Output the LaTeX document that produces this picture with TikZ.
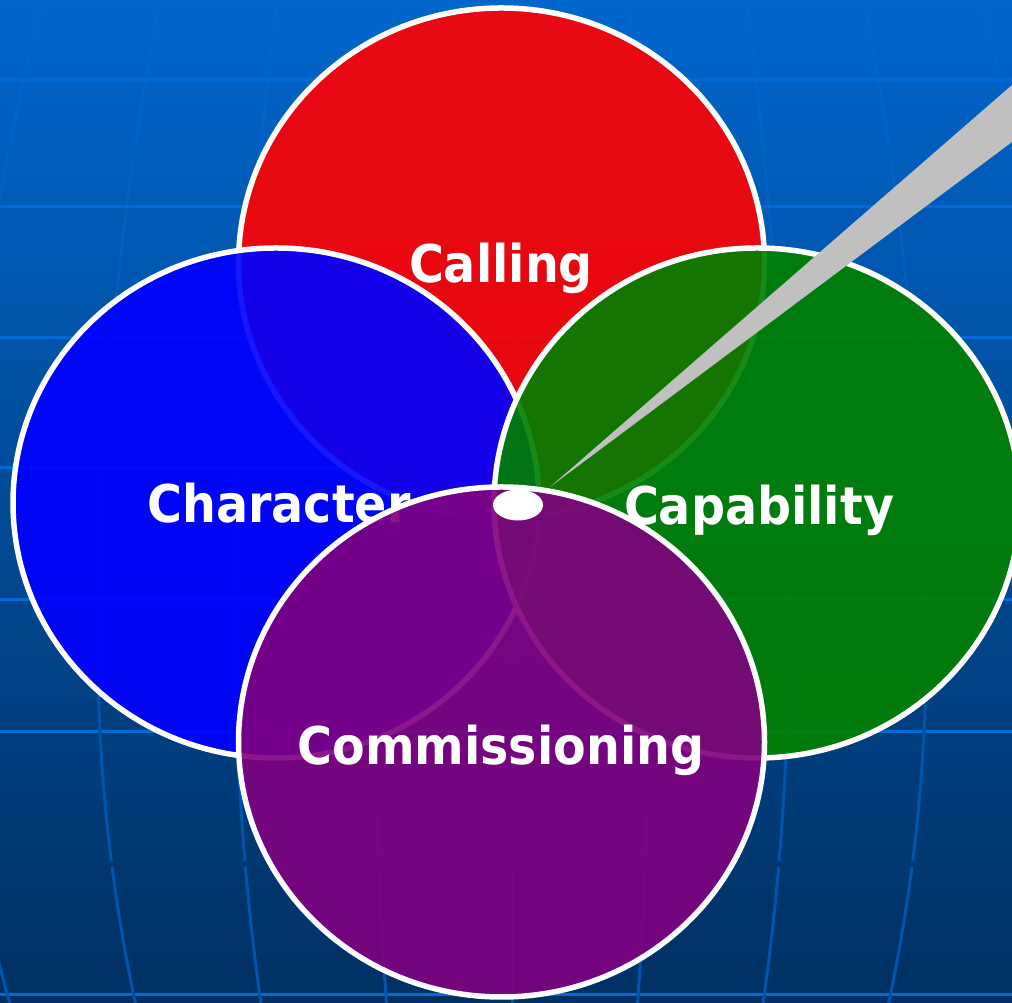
\documentclass[tikz,border=0pt]{standalone}
\usepackage{fontspec}
\setmainfont{DejaVu Sans}
\usepackage{graphicx}
\usetikzlibrary{shapes.geometric}
\definecolor{bgtop}{RGB}{0,102,204}
\definecolor{bgbot}{RGB}{0,48,98}
\definecolor{gridh}{RGB}{0,106,214}
\definecolor{gridv}{RGB}{0,84,170}
\definecolor{cred}{RGB}{255,0,0}
\definecolor{cblue}{RGB}{0,0,255}
\definecolor{cgreen}{RGB}{0,128,0}
\definecolor{cpurple}{RGB}{128,0,128}
\definecolor{spikegrey}{RGB}{192,192,192}
\newcommand\sqz[1]{\scalebox{0.915}[1]{#1}}
\begin{document}
\begin{tikzpicture}[x=1pt,y=1pt,
  ring/.style={ellipse,draw=white,line width=5.5pt,fill opacity=0.91,inner sep=0pt,
    minimum width=526pt,minimum height=510pt},
  lbl/.style={text=white,font=\fontsize{52}{60}\selectfont\bfseries,anchor=base,inner sep=0pt},
  hline/.style={draw=gridh,line width=3pt},
  vline/.style={draw=gridv,line width=3pt},
  vfaint/.style={draw=gridh,line width=3pt,opacity=0.4}]
\useasboundingbox (0,0) rectangle (1012,1003);
\clip (0,0) rectangle (1012,1003);
\shade[top color=bgtop,bottom color=bgbot] (0,0) rectangle (1012,1003);
% grid
\foreach \y in {923,796,665,535,403,271,8} \draw[hline] (0,\y) -- (1012,\y);
\foreach \k in {-4,...,4}{
  \draw[vfaint] plot[domain=0:650,samples=40,variable=\t]
    ({512+138*\k*(1-0.15*((\t-650)/650)^2)},{1003-\t});
  \draw[vline] plot[domain=650:861,samples=25,variable=\t]
    ({512+138*\k*(1-0.09*((\t-650)/353)^2)},{1003-\t});
  \draw[vline] plot[domain=867:1010,samples=20,variable=\t]
    ({512+138*\k*(1-0.09*((\t-650)/353)^2)},{1003-\t});
}
% circles
\node[ring,fill=cred] (red) at (501.5,740) {};
\node[lbl] (lred) at (501,720) {\sqz{Calling}};
\node[ring,fill=cblue] (blue) at (276,500) {};
\node[lbl] (lblue) at (279,480) {\sqz{Character}};
\node[ring,fill=cgreen] (green) at (757,500) {};
\node[lbl] (lgreen) at (759,478) {\sqz{Capability}};
% spike
\coordinate (tip) at (550,516);
\coordinate (sa) at (1012,918);
\coordinate (sb) at (1012,861);
\fill[spikegrey] (tip) -- (sa) -- (sb) -- cycle;
\node[ring,fill=cpurple] (purple) at (501.5,261) {};
\node[lbl] (lpurple) at (501,238) {\sqz{Commissioning}};
\node[ellipse,fill=white,inner sep=0pt,minimum width=50pt,minimum height=31pt] (dot) at (518,498) {};
\end{tikzpicture}
\end{document}
